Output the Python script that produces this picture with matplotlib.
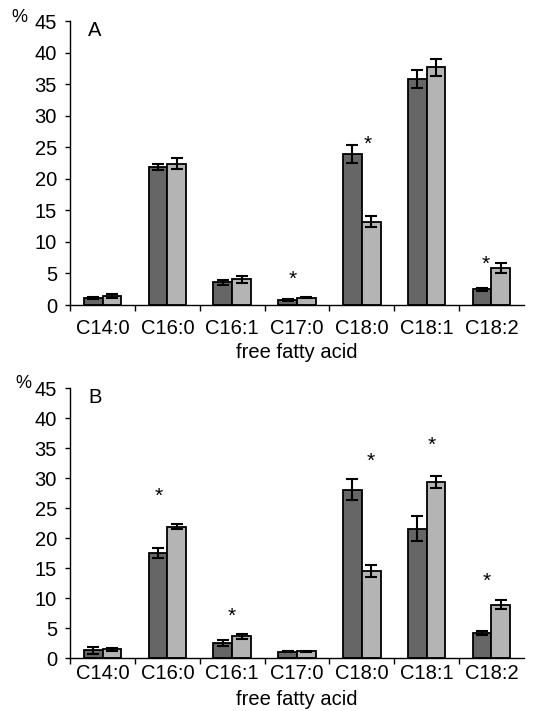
import matplotlib
matplotlib.use("Agg")
import matplotlib.pyplot as plt
import numpy as np

plt.rcParams['font.family'] = ['Liberation Sans', 'DejaVu Sans']

categories = ["C14:0", "C16:0", "C16:1", "C17:0", "C18:0", "C18:1", "C18:2"]

# Panel A
a_dark = [1.1, 21.9, 3.6, 0.8, 24.0, 35.8, 2.5]
a_dark_err = [0.1, 0.5, 0.35, 0.15, 1.4, 1.45, 0.25]
a_light = [1.4, 22.4, 4.1, 1.15, 13.2, 37.7, 5.9]
a_light_err = [0.3, 0.9, 0.55, 0.1, 0.9, 1.3, 0.75]
a_star_cat = [3, 4, 6]
a_star_dx = [-0.07, 0.085, -0.085]
a_star_y = [4.0, 25.5, 6.5]

# Panel B
b_dark = [1.3, 17.5, 2.5, 1.05, 28.1, 21.6, 4.2]
b_dark_err = [0.55, 0.9, 0.45, 0.05, 1.8, 2.1, 0.28]
b_light = [1.5, 21.9, 3.6, 1.1, 14.5, 29.4, 8.9]
b_light_err = [0.25, 0.45, 0.4, 0.1, 0.97, 1.0, 0.7]
b_star_cat = [1, 2, 4, 5, 6]
b_star_dx = [-0.13, 0.0, 0.13, 0.085, -0.07]
b_star_y = [27.0, 7.0, 32.8, 35.5, 12.8]

yticks = [0, 5, 10, 15, 20, 25, 30, 35, 40, 45]
xlabel = "free fatty acid"

DARK = "#666666"
LIGHT = "#b4b4b4"
FS = 14.5

fig = plt.figure(figsize=(5.52, 7.11), dpi=100)
axA = fig.add_axes([0.127, 0.571, 0.822, 0.399])
axB = fig.add_axes([0.127, 0.0745, 0.822, 0.3795])

def draw(ax, dark, derr, light, lerr, scat, sdx, sy, letter, tpad, lpad):
    x = np.arange(len(categories))
    w = 0.29
    ax.bar(x - w/2, dark, w, color=DARK, edgecolor="black", linewidth=1.3, zorder=2)
    ax.bar(x + w/2, light, w, color=LIGHT, edgecolor="black", linewidth=1.3, zorder=2)
    ax.errorbar(x - w/2, dark, yerr=derr, fmt="none", ecolor="black",
                elinewidth=1.5, capsize=4.5, capthick=1.5, zorder=3)
    ax.errorbar(x + w/2, light, yerr=lerr, fmt="none", ecolor="black",
                elinewidth=1.5, capsize=4.5, capthick=1.5, zorder=3)
    for c, dx, yy in zip(scat, sdx, sy):
        ax.text(c + dx, yy, "*", ha="center", va="center", fontsize=15)
    ax.set_xlim(-0.5, 6.5)
    ax.set_ylim(0, 45)
    ax.set_yticks(yticks)
    ax.set_yticklabels([str(t) for t in yticks], fontsize=FS)
    ax.set_xticks(np.arange(-0.5, 6.0, 1.0))
    ax.set_xticklabels([])
    ax.set_xticks(x, minor=True)
    ax.set_xticklabels(categories, minor=True, fontsize=FS)
    ax.tick_params(axis="x", which="major", length=4, width=1, direction="out")
    ax.tick_params(axis="x", which="minor", length=0, pad=tpad)
    ax.tick_params(axis="y", length=3.5, width=1, direction="out", pad=6)
    for s in ["top", "right"]:
        ax.spines[s].set_visible(False)
    for s in ["left", "bottom"]:
        ax.spines[s].set_linewidth(1.0)
    ax.set_xlabel(xlabel, fontsize=FS, labelpad=lpad)
    ax.text(0.04, 1.0, letter, transform=ax.transAxes, fontsize=FS,
            ha="left", va="top")

draw(axA, a_dark, a_dark_err, a_light, a_light_err, a_star_cat, a_star_dx, a_star_y, "A", 10, 4)
draw(axB, b_dark, b_dark_err, b_light, b_light_err, b_star_cat, b_star_dx, b_star_y, "B", 4, 5)

fig.text(19/552, 1 - 17/711, "%", fontsize=13, ha="center", va="center")
fig.text(23/552, 1 - 383/711, "%", fontsize=13, ha="center", va="center")

fig.savefig("out.png", dpi=100)
